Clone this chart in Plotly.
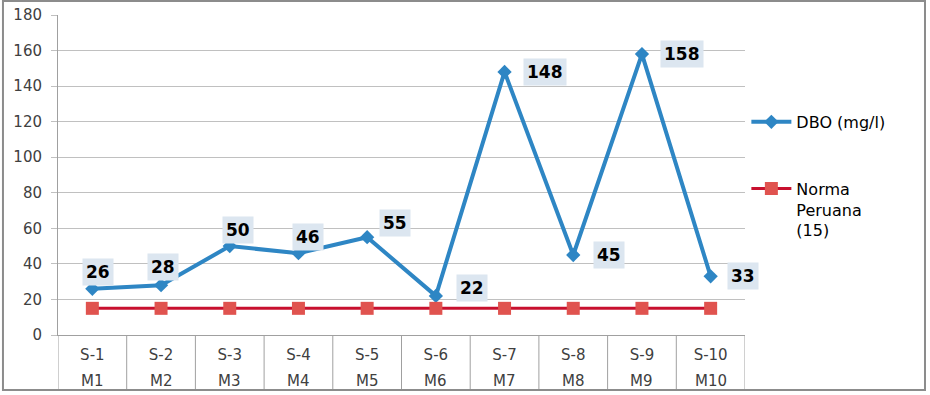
import plotly.graph_objects as go

sites = ["S-1", "S-2", "S-3", "S-4", "S-5", "S-6", "S-7", "S-8", "S-9", "S-10"]
samples = ["M1", "M2", "M3", "M4", "M5", "M6", "M7", "M8", "M9", "M10"]
dbo = [26, 28, 50, 46, 55, 22, 148, 45, 158, 33]
norma = [15, 15, 15, 15, 15, 15, 15, 15, 15, 15]
y_ticks = [0, 20, 40, 60, 80, 100, 120, 140, 160, 180]

# label offsets (px) relative to points
lbl_dx = [6, 2, 8, 10, 28, 36, 40, 36, 40, 32]
lbl_dy = [17, 18, 16, 16, 14, 8, 0, 0, 0, 0]

xs = list(range(len(sites)))
FONT = "DejaVu Sans"

fig = go.Figure()
fig.add_trace(go.Scatter(
    x=xs, y=dbo, mode="lines+markers", name="DBO (mg/l)",
    line=dict(color="#2E86C4", width=4),
    marker=dict(symbol="diamond", size=11, color="#2E86C4"),
    legendgroup="a",
))
fig.add_trace(go.Scatter(
    x=xs, y=norma, mode="lines+markers", name="Norma<br>Peruana<br>(15)",
    line=dict(color="#C8102E", width=3),
    marker=dict(symbol="square", size=13, color="#E0534F"),
    legendgroup="b",
))

for i, v in enumerate(dbo):
    fig.add_annotation(
        x=xs[i], y=v, xref="x", yref="y", text="<b>%d</b>" % v,
        showarrow=False, xshift=lbl_dx[i], yshift=lbl_dy[i],
        bgcolor="#DCE6F0", borderpad=3,
        font=dict(family=FONT, size=17, color="#000000"),
    )

for i, s in enumerate(samples):
    fig.add_annotation(
        x=xs[i], y=-0.144, xref="x", yref="paper", text=s,
        showarrow=False, yanchor="middle",
        font=dict(family=FONT, size=15, color="#404040"),
    )

# category dividers below the axis
for b in [i - 0.5 for i in range(len(sites) + 1)]:
    fig.add_shape(type="line", xref="x", yref="paper", x0=b, x1=b, y0=0, y1=-0.172,
                  line=dict(color="#A0A0A0", width=1))
# outer chart border
fig.add_shape(type="rect", xref="paper", yref="paper", x0=-0.0801, x1=1.262,
              y0=-0.172, y1=1.044, line=dict(color="#8C8C8C", width=2))

fig.update_layout(
    width=930, height=395,
    margin=dict(l=58, r=185, t=15, b=60),
    paper_bgcolor="white", plot_bgcolor="white",
    font=dict(family=FONT, size=15, color="#404040"),
    showlegend=True,
    legend=dict(x=1.002, y=0.719, xanchor="left", yanchor="top",
                font=dict(family=FONT, size=16, color="#000000"),
                tracegroupgap=43, valign="top", itemwidth=40),
    xaxis=dict(
        tickmode="array", tickvals=xs, ticktext=sites, range=[-0.5, 9.5],
        showgrid=False, zeroline=False, showline=True, linecolor="#A0A0A0",
        ticks="", ticklabelstandoff=6, automargin=False,
        tickfont=dict(family=FONT, size=15, color="#404040"),
    ),
    yaxis=dict(
        range=[0, 180], tickmode="array", tickvals=y_ticks,
        showgrid=True, gridcolor="#C0C0C0", gridwidth=1,
        zeroline=False, showline=True, linecolor="#A0A0A0", automargin=False,
        ticks="outside", ticklen=6, tickcolor="#C0C0C0", ticklabelstandoff=6,
        tickfont=dict(family=FONT, size=15, color="#404040"),
    ),
)

fig.write_html("out.html", config={"displayModeBar": False},
               post_script="document.body.style.margin='0';")
